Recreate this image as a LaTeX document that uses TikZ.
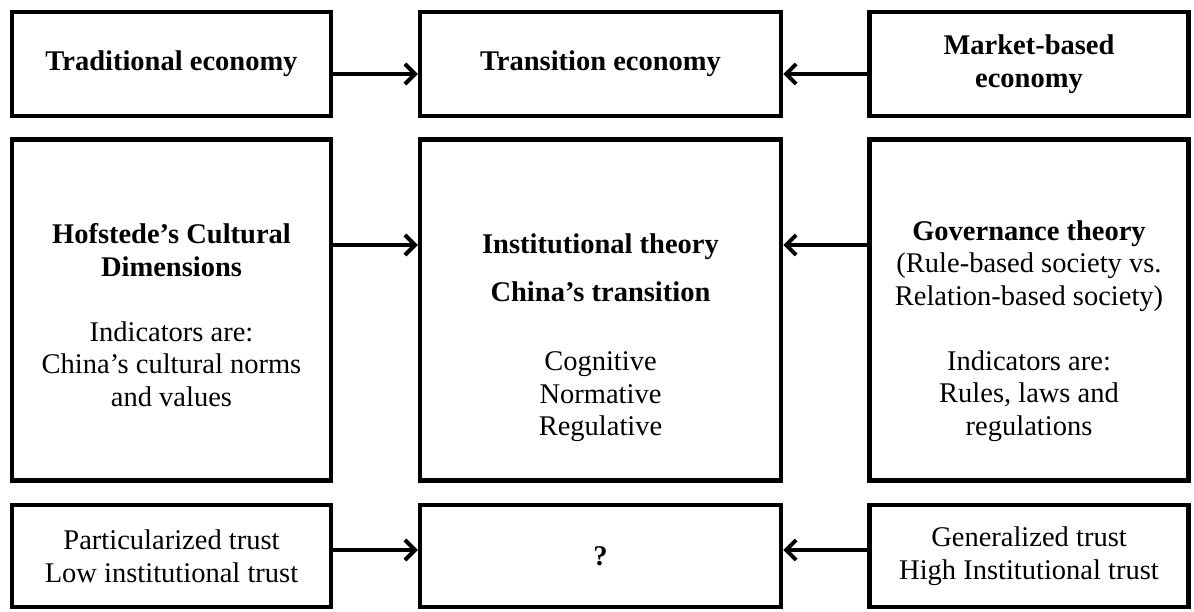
\documentclass[tikz,border=0pt]{standalone}
\usepackage{fontspec}
\setmainfont{Liberation Serif}
\usetikzlibrary{arrows.meta}
\begin{document}
\begin{tikzpicture}[x=1pt,y=-1pt,
  txt/.style={align=center, inner sep=0pt, font=\fontsize{28.5}{32.5}\selectfont},
  box/.style={draw, line width=4.5pt, inner sep=0pt, txt},
  sidebox/.style={box, minimum width=319pt},
  midbox/.style={box, minimum width=361pt},
  arr/.style={line width=4pt, -{Straight Barb[length=10pt,width=20pt]}}]
\useasboundingbox[fill=white] (0,0) rectangle (1194,612);
% row 1
\node[sidebox, minimum height=104pt] (trad) at (171.5,64) {\textbf{Traditional economy}};
\node[midbox, minimum height=104pt] (trans) at (600.5,64) {\textbf{Transition economy}};
\node[sidebox, minimum height=104pt] (market) at (1029,64) {\textbf{Market-based}\\\textbf{economy}};
% row 2
\node[sidebox, minimum height=341pt] (hofbox) at (171.5,310) {};
\node[midbox, minimum height=341pt] (instbox) at (600.5,310) {};
\node[sidebox, minimum height=341pt] (govbox) at (1029,310) {};
\node[txt] (hof) at (171.5,315) {\textbf{Hofstede’s Cultural}\\\textbf{Dimensions}\\[32.5pt]Indicators are:\\China’s cultural norms\\and values};
\node[txt] (inst) at (600.5,338) {\textbf{Institutional theory}\\[15.5pt]\textbf{China’s transition}\\[36.5pt]Cognitive\\Normative\\Regulative};
\node[txt] (gov) at (1029,331) {\textbf{Governance theory}\\(Rule-based society vs.\\Relation-based society)\\[32.5pt]Indicators are:\\Rules, laws and\\regulations};
% row 3
\node[sidebox, minimum height=102pt] (part) at (171.5,556) {Particularized trust\\Low institutional trust};
\node[midbox, minimum height=102pt] (q) at (600.5,556) {\textbf{?}};
\node[sidebox, minimum height=102pt] (gen) at (1029,556) {Generalized trust\\High Institutional trust};
% arrows
\draw[arr] (trad.east |- 0,74) -- (trans.west |- 0,74);
\draw[arr] (market.west |- 0,74) -- (trans.east |- 0,74);
\draw[arr] (hofbox.east |- 0,245) -- (instbox.west |- 0,245);
\draw[arr] (govbox.west |- 0,245) -- (instbox.east |- 0,245);
\draw[arr] (part.east |- 0,550) -- (q.west |- 0,550);
\draw[arr] (gen.west |- 0,550) -- (q.east |- 0,550);
\end{tikzpicture}
\end{document}
